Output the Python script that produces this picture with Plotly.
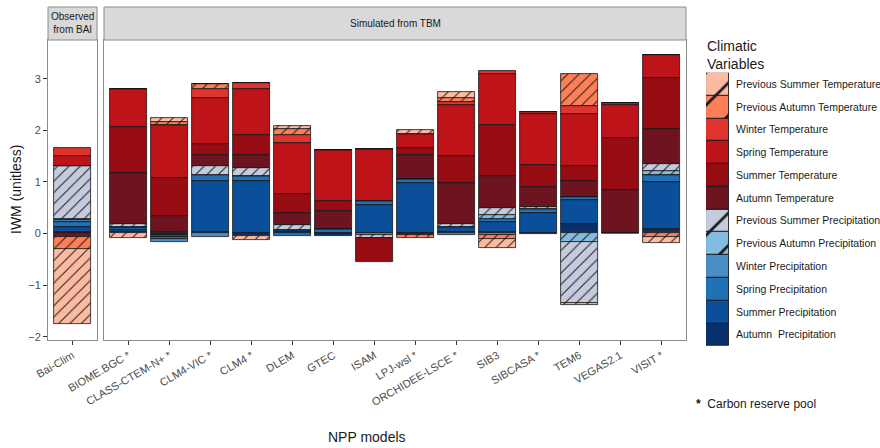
import plotly.graph_objects as go

# ---- data -------------------------------------------------------------
models = ["Bai-Clim", "BIOME.BGC *", "CLASS-CTEM-N+ *", "CLM4-VIC *", "CLM4 *", "DLEM",
          "GTEC", "ISAM", "LPJ-wsl *", "ORCHIDEE-LSCE *", "SIB3", "SIBCASA *",
          "TEM6", "VEGAS2.1", "VISIT *"]

# importance values per climatic variable (first entry = Bai-Clim)
autumn_prec      = [0.03, 0.02, -0.02, 0.03, -0.04, 0.03, -0.05, 0.00, -0.02, 0.02, 0.02, -0.01, 0.18, 0.00, 0.08]
summer_prec      = [0.10, 0.05, -0.04, 0.99, 1.01, 0.04, 0.00, 0.55, 0.97, 0.10, 0.21, 0.40, 0.46, 0.00, 0.92]
spring_prec      = [0.10, 0.04, -0.05, 0.11, 0.10, -0.04, 0.09, 0.07, 0.09, 0.00, 0.05, 0.07, 0.07, 0.00, 0.13]
winter_prec      = [0.03, 0.02, -0.05, -0.06, 0.00, 0.00, 0.00, -0.03, 0.00, -0.03, -0.03, 0.00, 0.00, 0.00, 0.00]
prev_autumn_prec = [0.02, 0.00, 0.00, 0.00, 0.00, 0.00, 0.00, 0.00, 0.00, 0.00, 0.08, 0.00, -0.16, 0.00, 0.08]
prev_summer_prec = [1.03, 0.05, 0.03, 0.18, 0.16, 0.09, 0.00, -0.06, 0.00, 0.06, 0.13, 0.05, -1.18, 0.00, 0.13]
autumn_temp      = [-0.07, 0.99, 0.30, 0.21, 0.26, 0.23, 0.35, 0.00, 0.47, 0.79, 0.63, 0.38, 0.31, 0.84, 0.68]
summer_temp      = [0.00, 0.89, 0.74, 0.21, 0.38, 0.37, 0.18, -0.47, 0.13, 0.53, 0.98, 0.43, 0.29, 1.01, 1.00]
spring_temp      = [0.20, 0.75, 1.03, 0.90, 0.89, 0.99, 1.00, 1.02, 0.26, 0.99, 0.99, 0.99, 1.00, 0.64, 0.44]
winter_temp      = [0.15, 0.00, 0.00, 0.17, 0.12, 0.16, 0.00, 0.00, 0.00, 0.05, 0.05, 0.04, 0.17, 0.03, 0.00]
prev_autumn_temp = [-0.23, 0.00, 0.06, 0.10, 0.00, 0.11, 0.00, 0.00, -0.07, 0.08, -0.08, 0.00, 0.61, 0.00, -0.07]
prev_summer_temp = [-1.45, -0.09, 0.07, 0.00, -0.09, 0.07, 0.00, 0.00, 0.09, 0.13, -0.18, 0.00, -0.05, 0.00, -0.12]

# stacking order, from the zero line outward
variables = [
    ("Autumn  Precipitation", autumn_prec, "#08306B", False),
    ("Summer Precipitation", summer_prec, "#0B4E9A", False),
    ("Spring Precipitation", spring_prec, "#2171B5", False),
    ("Winter Precipitation", winter_prec, "#4A8CC4", False),
    ("Previous Autumn Precipitation", prev_autumn_prec, "#82BCE0", True),
    ("Previous Summer Precipitation", prev_summer_prec, "#C3CBDD", True),
    ("Autumn Temperature", autumn_temp, "#6D1420", False),
    ("Summer Temperature", summer_temp, "#970B13", False),
    ("Spring Temperature", spring_temp, "#BE1419", False),
    ("Winter Temperature", winter_temp, "#E0352F", False),
    ("Previous Autumn Temperature", prev_autumn_temp, "#FC7F58", True),
    ("Previous Summer Temperature", prev_summer_temp, "#FCBBA1", True),
]

yticks = [-2, -1, 0, 1, 2, 3]

# ---- layout geometry (figure is 880 x 448 px) -------------------------
W, H = 880, 448
def px(x):
    return x / W
def py(y):
    return 1 - y / H

panel_top, panel_bottom = 40, 340
strip_top = 7
left_x0, left_x1 = 48, 97
main_x0, main_x1 = 104, 686
leg_x0, leg_x1 = 706, 729
leg_top, leg_bottom = 72.7, 346

FONT = "Liberation Sans, Arial, sans-serif"
TICK_GREY = "#4D4D4D"
BORDER = "#8C8C8C"

fig = go.Figure()

def pattern_for(hatched, color, size):
    if hatched:
        return dict(shape="/", fgcolor="#1A1A1A", bgcolor=color, size=size,
                    solidity=0.12, fillmode="replace")
    return dict(shape="")

for name, vals, color, hatched in variables:
    # observed panel
    fig.add_trace(go.Bar(
        x=models[:1], y=vals[:1], name=name, marker=dict(
            color=color, line=dict(color="#151515", width=0.8),
            pattern=pattern_for(hatched, color, 8)),
        width=0.9, xaxis="x", yaxis="y", showlegend=False))
    # simulated panel
    fig.add_trace(go.Bar(
        x=models[1:], y=vals[1:], name=name, marker=dict(
            color=color, line=dict(color="#151515", width=0.8),
            pattern=pattern_for(hatched, color, 8)),
        width=0.9, xaxis="x2", yaxis="y2", showlegend=False))
    # key column
    fig.add_trace(go.Bar(
        x=["key"], y=[1], name=name, marker=dict(
            color=color, line=dict(color="#151515", width=0.9),
            pattern=pattern_for(hatched, color, 23)),
        width=1, xaxis="x3", yaxis="y3", showlegend=False, hoverinfo="name"))

tick_font = dict(family=FONT, size=11, color=TICK_GREY)
ydom = [py(panel_bottom), py(panel_top)]
yrange = [-2.065, 3.75]

fig.update_layout(
    width=W, height=H,
    margin=dict(l=0, r=0, t=0, b=0, autoexpand=False),
    paper_bgcolor="white", plot_bgcolor="white",
    barmode="relative", bargap=0,
    font=dict(family=FONT, color="#1A1A1A"),
    xaxis=dict(domain=[px(left_x0), px(left_x1)], range=[-0.6, 0.6],
               showline=True, mirror=True, linecolor=BORDER, linewidth=1,
               ticks="outside", ticklen=4, tickcolor="#333", tickangle=-30,
               tickfont=tick_font, showgrid=False, zeroline=False, anchor="y",
               automargin=False),
    yaxis=dict(domain=ydom, range=yrange, tickvals=yticks,
               showline=True, mirror=True, linecolor=BORDER, linewidth=1,
               ticks="outside", ticklen=4, tickcolor="#333",
               tickfont=tick_font, showgrid=False, zeroline=False, anchor="x",
               automargin=False),
    xaxis2=dict(domain=[px(main_x0), px(main_x1)], range=[-0.6, 13.6],
                showline=True, mirror=True, linecolor=BORDER, linewidth=1,
                ticks="outside", ticklen=4, tickcolor="#333", tickangle=-30,
                tickfont=tick_font, showgrid=False, zeroline=False, anchor="y2",
                automargin=False),
    yaxis2=dict(domain=ydom, range=yrange, showticklabels=False, ticks="",
                showline=True, mirror=True, linecolor=BORDER, linewidth=1,
                showgrid=False, zeroline=False, anchor="x2", automargin=False),
    xaxis3=dict(domain=[px(leg_x0), px(leg_x1)], range=[-0.5, 0.5],
                visible=False, anchor="y3", automargin=False),
    yaxis3=dict(domain=[py(leg_bottom), py(leg_top)], range=[0, 12],
                side="right", anchor="x3",
                tickvals=[i + 0.5 for i in range(len(variables))],
                ticktext=[v[0] for v in variables],
                tickfont=dict(family=FONT, size=10.5, color="#1A1A1A"),
                ticks="", ticklabelstandoff=6, showline=False,
                showgrid=False, zeroline=False, automargin=False),
)

# facet strips
for x0, x1 in [(left_x0, left_x1), (main_x0, main_x1)]:
    fig.add_shape(type="rect", xref="paper", yref="paper",
                  x0=px(x0), x1=px(x1), y0=py(panel_top), y1=py(strip_top),
                  fillcolor="#D9D9D9", line=dict(color=BORDER, width=1))

strip_font = dict(family=FONT, size=10, color="#1A1A1A")
strip_mid = py((strip_top + panel_top) / 2)
fig.add_annotation(text="Observed<br>from BAI", xref="paper", yref="paper",
                   x=px((left_x0 + left_x1) / 2), y=strip_mid,
                   xanchor="center", yanchor="middle",
                   showarrow=False, font=strip_font, align="center")
fig.add_annotation(text="Simulated from TBM", xref="paper", yref="paper",
                   x=px((main_x0 + main_x1) / 2), y=strip_mid,
                   xanchor="center", yanchor="middle",
                   showarrow=False, font=strip_font)

# axis titles
fig.add_annotation(text="IWM (unitless)", xref="paper", yref="paper",
                   x=px(16), y=py((panel_top + panel_bottom) / 2), textangle=-90,
                   xanchor="center", yanchor="middle",
                   showarrow=False, font=dict(family=FONT, size=14, color="#1A1A1A"))
fig.add_annotation(text="NPP models", xref="paper", yref="paper",
                   x=px((left_x0 + main_x1) / 2), y=py(437),
                   xanchor="center", yanchor="middle",
                   showarrow=False, font=dict(family=FONT, size=14, color="#1A1A1A"))

# key title and footnote
fig.add_annotation(text="Climatic<br>Variables", xref="paper", yref="paper",
                   x=px(705), y=py(36), xanchor="left", yanchor="top", align="left",
                   showarrow=False, font=dict(family=FONT, size=14, color="#1A1A1A"))
fig.add_annotation(text="<b>*</b>  Carbon reserve pool", xref="paper", yref="paper",
                   x=px(694), y=py(404), xanchor="left", yanchor="middle",
                   showarrow=False, font=dict(family=FONT, size=12, color="#1A1A1A"))

fig.write_html("out.html")
